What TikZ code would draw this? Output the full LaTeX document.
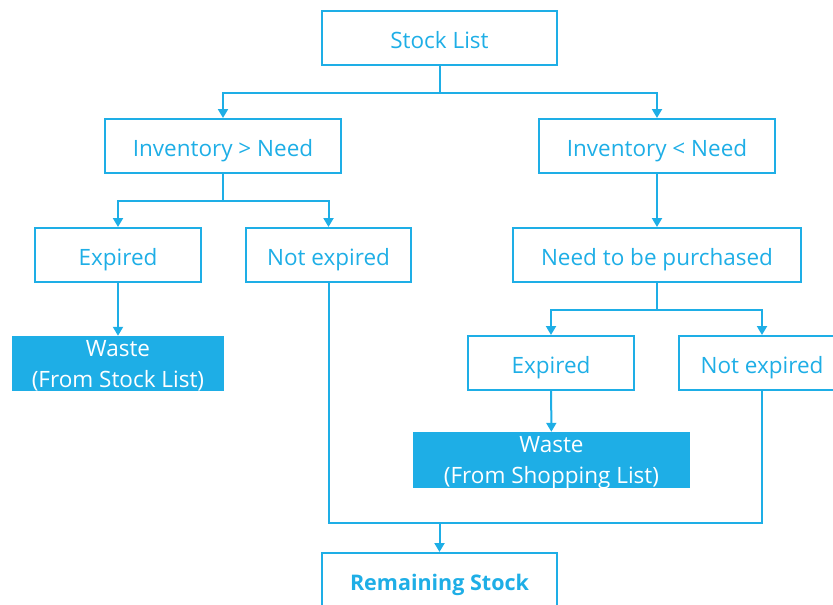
\documentclass[tikz,border=0pt]{standalone}
\usepackage{fontspec}
\setmainfont{Open Sans}
\usetikzlibrary{arrows.meta}
\definecolor{flowblue}{RGB}{30,174,230}
\begin{document}
\begin{tikzpicture}[x=1pt, y=-1pt,
        box/.style = {draw=flowblue, line width=2pt, text=flowblue, minimum height=54pt,
            inner sep=0pt, text height=20pt, text depth=0pt,
            font=\fontsize{22.5}{26}\selectfont},
        waste/.style = {fill=flowblue, text=white, align=center, inner sep=0pt,
            text depth=0pt, font=\fontsize{22.5}{31}\selectfont},
        link/.style = {draw=flowblue, line width=2pt},
        arrow/.style = {link, -{Triangle[width=10pt, length=9pt]}}]
    \clip (0,0) rectangle (833,605);
    \node [box, minimum width=235pt] (stock) at (439.5,38) {Stock List};
    \node [box, minimum width=236pt] (invgt) at (223,146) {Inventory > Need};
    \node [box, minimum width=236pt] (invlt) at (657,146) {Inventory < Need};
    \node [box, minimum width=166pt] (exp1) at (118,255) {Expired};
    \node [box, minimum width=165pt] (notexp1) at (328.5,255) {Not expired};
    \node [box, minimum width=288pt] (buy) at (657,255) {Need to be purchased};
    \node [box, minimum width=166pt] (exp2) at (551,363) {Expired};
    \node [box, minimum width=166pt] (notexp2) at (762,363) {Not expired};
    \node [waste, minimum width=212pt, minimum height=55pt] (waste1) at (118,363.5)
        {Waste\\(From Stock List)};
    \node [waste, minimum width=277pt, minimum height=56pt] (waste2) at (551.5,460)
        {Waste\\(From Shopping List)};
    \node [box, minimum width=235pt, font=\fontsize{21.5}{26}\selectfont\bfseries] (remain)
        at (439.5,580) {Remaining Stock};
    \coordinate (merge) at (439.5,523);

    \draw [arrow] (stock.south) -- ++(0,27) -| (invgt);
    \draw [arrow] (stock.south) -- ++(0,27) -| (invlt);
    \draw [arrow] (invgt.south) -- ++(0,27) -| (exp1);
    \draw [arrow] (invgt.south) -- ++(0,27) -| (notexp1);
    \draw [arrow] (invlt) -- (buy);
    \draw [arrow] (buy.south) -- ++(0,27) -| (exp2);
    \draw [arrow] (buy.south) -- ++(0,27) -| (notexp2);
    \draw [arrow] (exp1) -- (waste1);
    \draw [arrow] (exp2) -- (waste2);
    \draw [link] (notexp1.south) |- (merge);
    \draw [link] (notexp2.south) |- (merge);
    \draw [arrow] (merge) -- (remain);
\end{tikzpicture}
\end{document}
